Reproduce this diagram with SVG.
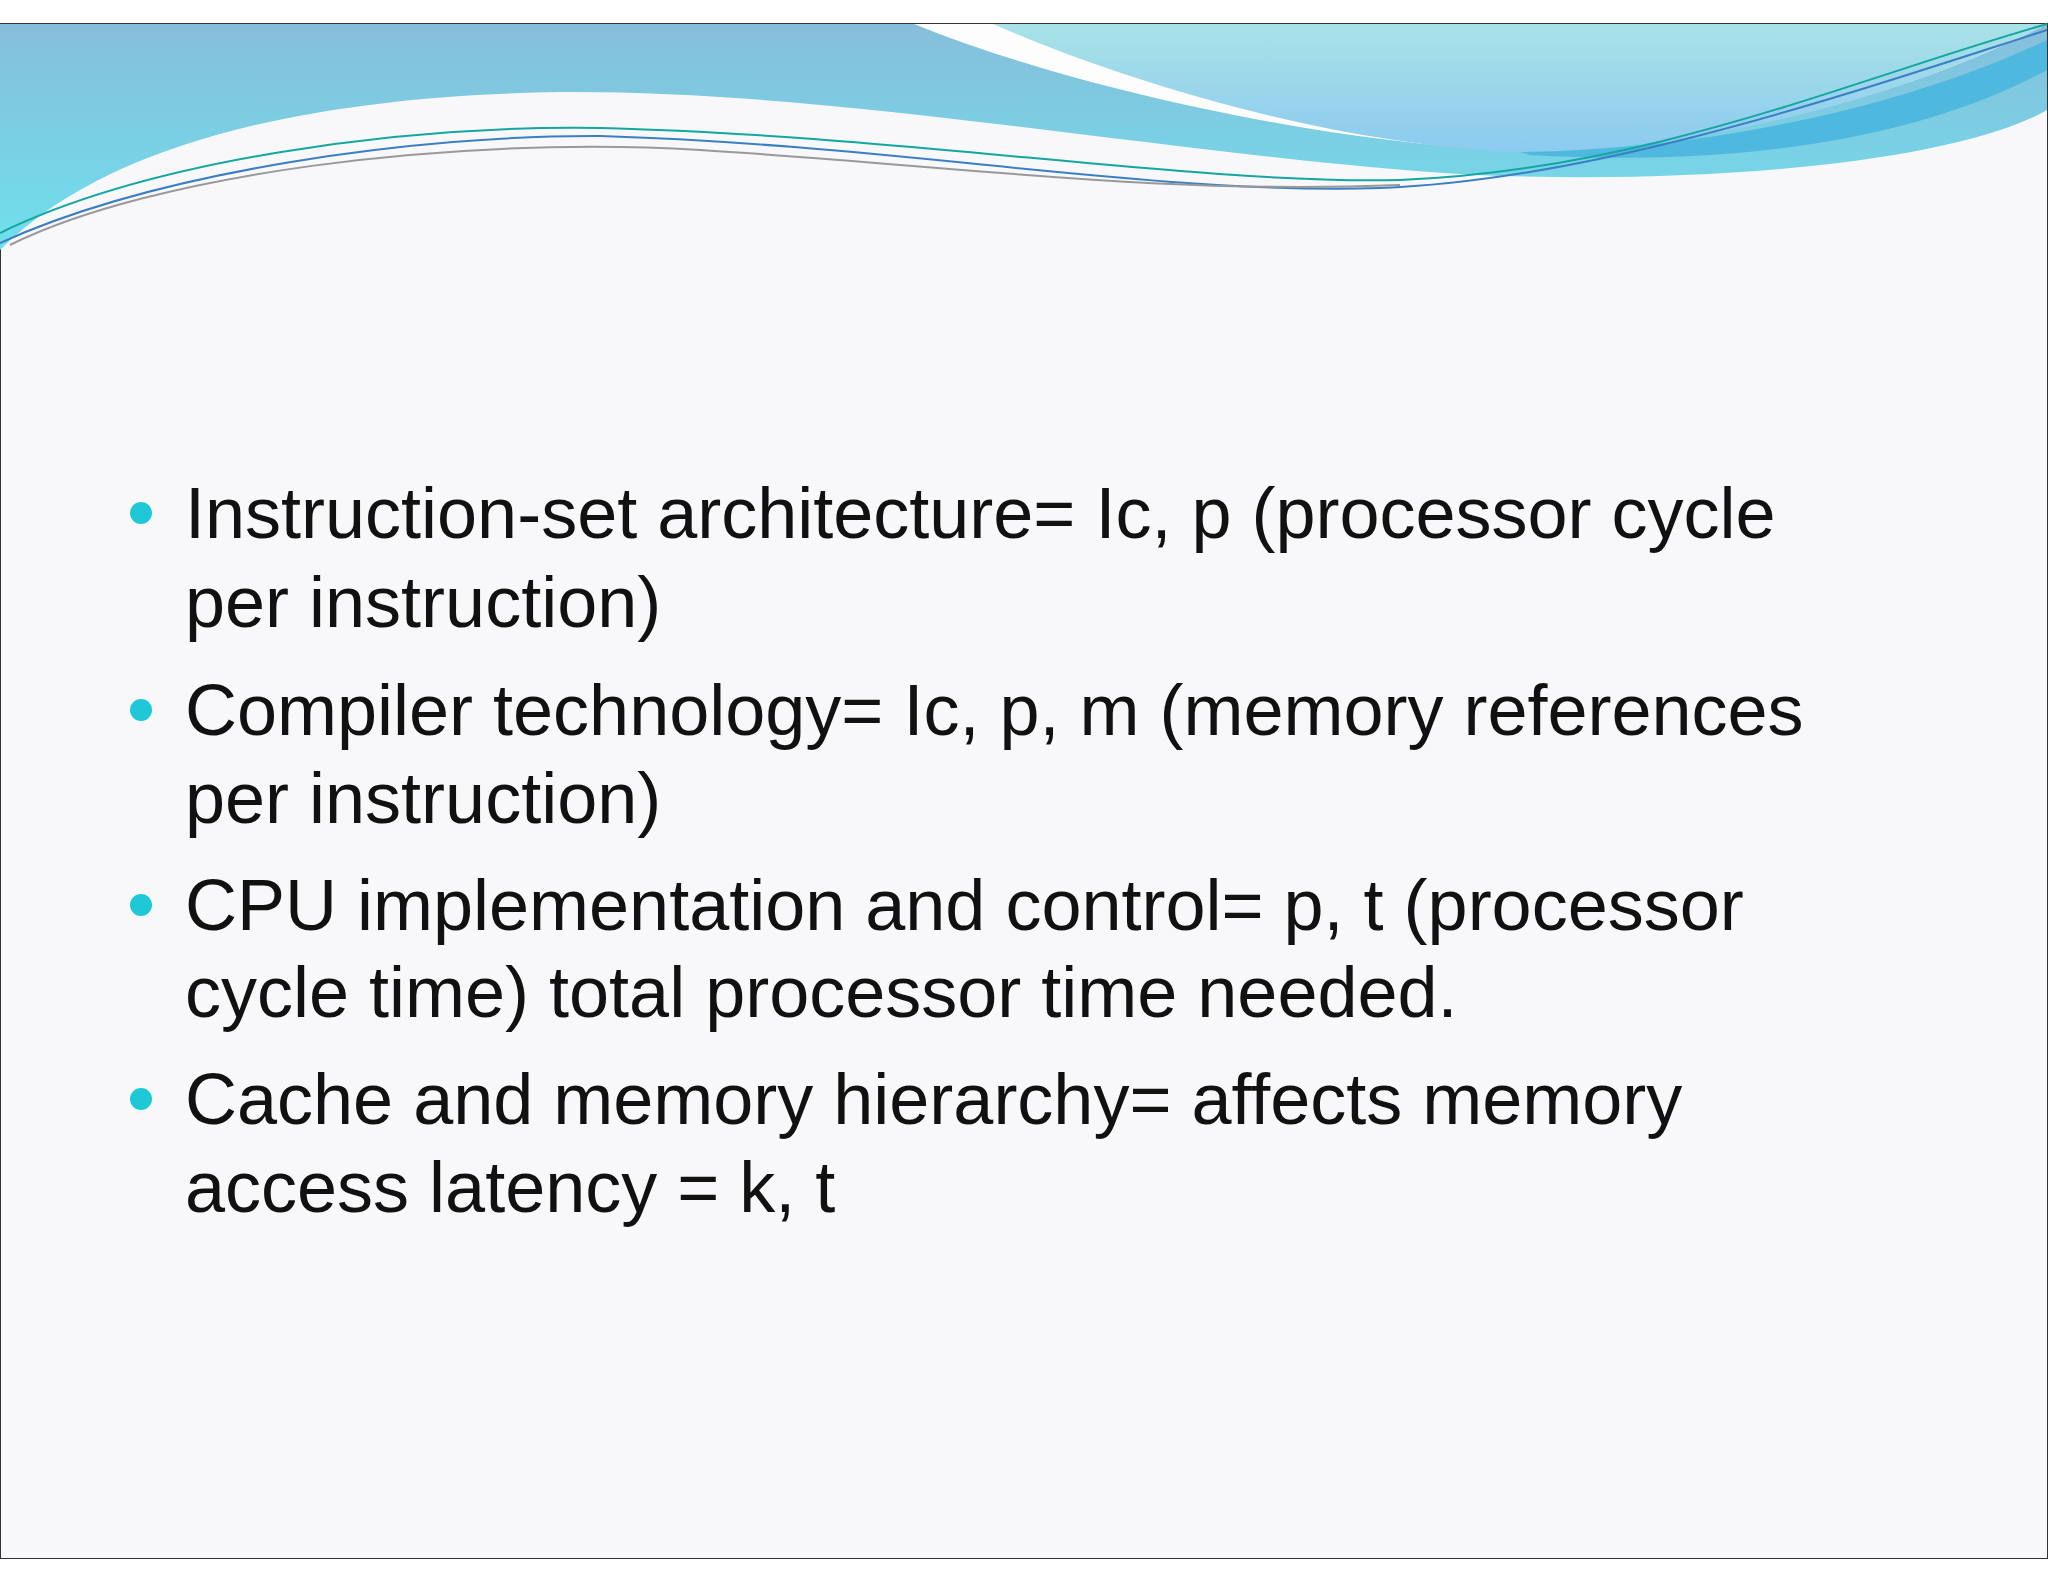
<svg xmlns="http://www.w3.org/2000/svg" width="2048" height="1582" viewBox="0 0 2048 1582">
<defs>
<linearGradient id="band" x1="0" y1="0" x2="0" y2="1"><stop offset="0" stop-color="#86bedb"/><stop offset="1" stop-color="#6fe0ec"/></linearGradient>
<linearGradient id="light" x1="0" y1="0" x2="0" y2="1"><stop offset="0" stop-color="#a9e2e6"/><stop offset="1" stop-color="#8ccaf0"/></linearGradient>
<style>.t{font-family:"Liberation Sans",Arial,sans-serif;font-size:72px;fill:#111}.b{fill:#1ec8d6}</style>
</defs>
<rect width="2048" height="1582" fill="#fff"/>
<rect x="0.5" y="23.5" width="2047" height="1535" fill="#f8f8fa" stroke="#333" stroke-width="1"/>
<g id="wave">
<path d="M0 24 H2047 V110 C1960 160 1720 185 1476 175 C1200 160 850 90 562 92 C350 95 120 130 0 250 Z" fill="url(#band)"/>
<path d="M914 24 C1050 80 1300 140 1502 150 C1700 150 1900 100 2047 24 Z" fill="#fdfdfd"/>
<path d="M993 24 C1120 80 1330 145 1520 152 C1720 150 1920 90 2047 24 Z" fill="url(#light)"/>
<path d="M1520 152 C1700 150 1900 110 2047 40 V70 C1900 150 1700 165 1530 155 Z" fill="#4fb8de"/>
<path d="M0 233 C150 160 400 125 600 128 C900 135 1200 185 1400 180 C1650 170 1850 80 2047 24" fill="none" stroke="#14a6a0" stroke-width="2"/>
<path d="M0 243 C160 170 420 135 600 136 C900 145 1150 195 1380 188 C1600 180 1860 90 2047 30" fill="none" stroke="#3a7fc4" stroke-width="2"/>
<path d="M10 245 C150 175 450 135 700 150 C950 165 1150 195 1400 185" fill="none" stroke="#999" stroke-width="2"/>
</g>
<g id="text">
<circle class="b" cx="141" cy="513" r="11"/>
<text class="t" x="185" y="538">Instruction-set architecture= Ic, p (processor cycle</text>
<text class="t" x="185" y="627">per instruction)</text>
<circle class="b" cx="141" cy="710" r="11"/>
<text class="t" x="185" y="735">Compiler technology= Ic, p, m (memory references</text>
<text class="t" x="185" y="823">per instruction)</text>
<circle class="b" cx="141" cy="905" r="11"/>
<text class="t" x="185" y="930">CPU implementation and control= p, t (processor</text>
<text class="t" x="185" y="1017">cycle time) total processor time needed.</text>
<circle class="b" cx="141" cy="1099" r="11"/>
<text class="t" x="185" y="1124">Cache and memory hierarchy= affects memory</text>
<text class="t" x="185" y="1212">access latency = k, t</text>
</g>
</svg>
